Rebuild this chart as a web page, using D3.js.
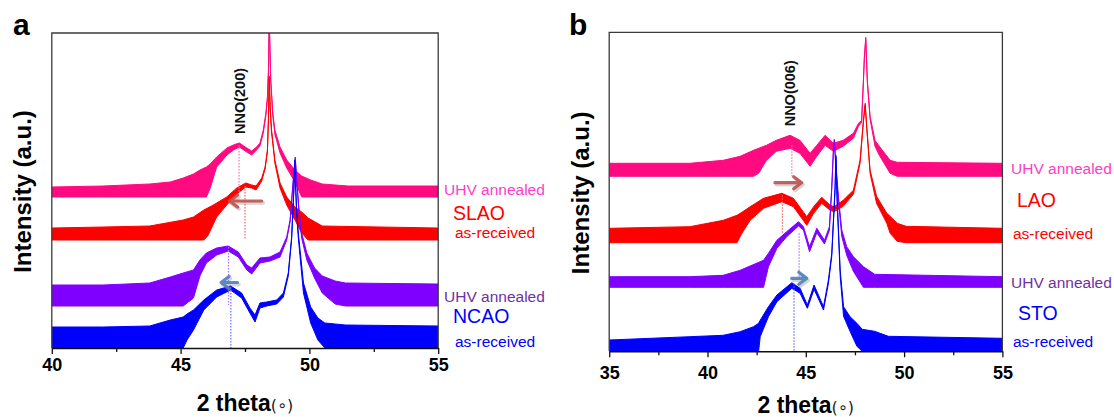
<!DOCTYPE html>
<html><head><meta charset="utf-8">
<script src="https://cdn.jsdelivr.net/npm/d3@7"></script>
<style>body{margin:0;background:#fff}svg{display:block}</style>
</head><body>
<svg id="c" width="1114" height="417"></svg>
<script>
// ---------- DATA (2θ in degrees, intensity in a.u.: [theta, upper envelope, lower envelope]) ----------
const thetaTicksA = [40, 45, 50, 55];
const thetaMinorA = [42.5, 47.5, 52.5];
const thetaTicksB = [35, 40, 45, 50, 55];
const thetaMinorB = [37.5, 42.5, 47.5, 52.5];

// Panel a : SLAO / NCAO substrates
const aSLAO_UHV = [[40,161,151],[42,162,151],[43.8,164,151],[44.6,166,151],[45.1,170,151],[45.5,174,151],[45.75,178,151],[46.0,181,151],[46.15,184,160],[46.4,191,181],[46.8,200,193],[47.05,203,198],[47.28,205,201],[47.57,200,196],[47.76,197,193],[47.95,201,198],[48.08,205,202],[48.21,218,215],[48.31,235,232],[48.37,251,249],[48.41,278,276],[48.44,330,328],[48.5,268,266],[48.58,235,232],[48.66,218,214],[48.86,201,195],[49.12,188,180],[49.44,178,166],[49.7,172,151],[50.05,168,151],[50.5,164,151],[51.5,162,151],[55,162,151]];
const aSLAO_AR  = [[40,120,108],[42,121,108],[43.8,122,108],[45.1,128,108],[45.5,131,108],[45.9,138,108],[46.05,140,112],[46.2,142,120],[46.4,145,131],[46.79,151,143],[47.18,160,154],[47.53,165,161],[47.76,163,160],[47.93,162,158],[48.15,170,167],[48.28,181,179],[48.37,198,196],[48.41,230,228],[48.44,272,270],[48.48,240,238],[48.53,218,216],[48.66,188,185],[48.86,165,160],[49.12,151,143],[49.44,141,128],[49.7,136,115],[49.95,130,108],[50.5,122,108],[55,120,108]];
const aNCAO_UHV = [[40,63,42],[42,63,42],[43.8,65,42],[44.6,71,42],[45.1,75,42],[45.5,78,50],[45.75,88,72],[46.0,95,85],[46.4,100,93],[46.85,102,97],[47.24,96,91],[47.57,83,78],[47.76,80,74],[48.08,90,85],[48.47,91,87],[48.86,96,91],[49.12,111,108],[49.25,128,126],[49.35,161,159],[49.45,191,189],[49.52,165,162],[49.6,138,134],[49.7,115,110],[49.9,95,88],[50.2,80,70],[50.5,72,55],[51,67,44],[51.4,65,42],[55,64,42]];
const aNCAO_AR  = [[40,21,0],[42,21,0],[43.8,22,0],[44.6,28,0],[45.1,31,0],[45.25,34,8],[45.5,38,18],[45.9,48,38],[46.4,58,51],[46.94,62,58],[47.37,55,50],[47.69,40,35],[47.89,33,26],[48.08,45,40],[48.34,46,42],[48.73,48,44],[48.99,55,51],[49.18,75,72],[49.31,111,109],[49.4,161,159],[49.43,188,186],[49.5,140,137],[49.57,115,110],[49.77,65,55],[50.05,41,25],[50.33,30,8],[50.6,25,0],[51.4,23,0],[55,22,0]];

// Panel b : LAO / STO substrates
const bLAO_UHV = [[35,188,175],[39.1,188,175],[40.8,191,175],[41.66,195,175],[42.34,201,175],[42.6,203,178],[43.0,206,191],[43.5,211,200],[44.2,216,203],[44.7,211,198],[45.22,198,185],[45.56,206,195],[45.98,216,206],[46.4,208,200],[46.9,211,205],[47.42,218,213],[47.68,228,225],[47.84,231,229],[47.93,271,269],[47.98,295,293],[48.05,314,312],[48.13,271,269],[48.27,235,232],[48.52,211,205],[48.74,205,196],[49.29,191,178],[49.65,189,175],[55,188,175]];
const bLAO_AR  = [[35,123,108.6],[39.1,124.6,108.6],[40.8,131,108.6],[41.5,136,108.6],[41.75,139,118],[42.17,144.6,131],[42.85,153,143],[43.78,158,149.6],[44.37,153,144.6],[45.05,134.6,126],[45.4,144.6,138],[45.81,154,148],[46.24,146,141],[46.44,144.6,139.6],[46.9,151,145],[47.42,161,157],[47.76,191,188],[47.93,231,229],[48.02,248,246],[48.1,225,223],[48.27,181,178],[48.6,155,148],[49.12,138,128],[49.29,135,118],[49.65,128,110],[50.1,125,108.6],[55,123,108.6]];
const bSTO_UHV = [[35,74.6,64],[39.1,74.6,64],[40.8,76,64],[41.66,81,64],[42.85,91,64],[43.1,98,84.6],[43.53,111,103],[44.03,119.6,114.6],[44.63,129.6,125.3],[44.88,124.6,121.3],[45.19,104.6,99.6],[45.56,123,118.6],[45.95,111,107.3],[46.2,124.6,121],[46.32,164.6,162],[46.41,204.6,202],[46.45,212,210],[46.52,190,187],[46.66,154.6,150],[46.83,121.3,115],[47.08,104.6,96],[47.42,94.6,80],[47.93,84.6,64],[48.5,77,64],[55,74.6,64]];
const bSTO_AR  = [[35,11.3,0],[39.1,14.6,0],[40.8,16,0],[41.66,19.6,0],[42.34,24.6,0],[42.6,28,0],[42.68,31,14.6],[43.1,44.6,34.6],[43.53,56.3,49.6],[44.29,68.6,63],[44.71,63,58],[45.08,46.3,43],[45.42,66.3,62],[45.9,44.6,41.3],[46.15,71.3,68],[46.32,98,95],[46.49,164.6,162],[46.53,196,194],[46.6,150,147],[46.75,81,75],[46.92,44.6,35],[47.25,34.6,20],[47.6,28,5],[47.87,22,0],[48.5,20,0],[49.2,15,0],[55,13,0]];

// peak-position guide lines: [theta, upper, lower]
const aGuides = [[47.27,203,155],[47.5,162,108],[46.86,101,43],[46.95,61,0]];
const bGuides = [[44.29,206,175],[43.81,156,118],[44.66,118,74],[44.4,68,0]];
// shift arrows: [from theta, to theta, level]
const aArrows = [[48.15,46.9,147],[47.21,46.57,65.5]];
const bArrows = [[43.43,44.79,168.6],[44.28,45.05,73]];
// peak labels: [text, theta, level]
const aPeakLabel = ["NNO(200)", 47.3, 247];
const bPeakLabel = ["NNO(006)", 44.2, 258];
// legend texts
const aLegend = ["UHV annealed", "SLAO", "as-received", "UHV annealed", "NCAO", "as-received"];
const bLegend = ["UHV annealed", "LAO", "as-received", "UHV annealed", "STO", "as-received"];

// ---------- STYLES ----------
const curveColors = ["#ff0a80", "#ff0000", "#8000ff", "#0000ff"];
const guideColors = ["#ff70b0", "#ff6060", "#b070ff", "#6a6aff"];
const arrowColors = ["#c0504d", "#4f81bd"];
const legendColors = ["#ff3cc8", "#ff0000", "#ff0000", "#7030a0", "#0000ff", "#0000ff"];
const legendSizes = [15.5, 19.5, 15.5, 15.5, 19.5, 15.5];
const FONT = "'Liberation Sans', Arial, sans-serif";

const svg = d3.select("#c");
const defs = svg.append("defs");

function drawPanel(cfg) {
  const x = d3.scaleLinear().domain(cfg.xDomain).range(cfg.xRange);
  const y = d3.scaleLinear().domain(cfg.yDomain).range(cfg.yRange);
  const [L, R] = cfg.xRange, [B, T] = cfg.yRange;
  const g = svg.append("g");

  defs.append("clipPath").attr("id", "clip" + cfg.id).append("rect")
    .attr("x", L).attr("y", T).attr("width", R - L).attr("height", B - T);
  const plot = g.append("g").attr("clip-path", `url(#clip${cfg.id})`);

  const area = d3.area().x(d => x(d[0])).y0(d => y(d[2])).y1(d => y(d[1]));
  cfg.series.forEach((s, i) => {
    plot.append("path").datum(s).attr("d", area)
      .attr("fill", curveColors[i]).attr("stroke", curveColors[i])
      .attr("stroke-width", 1).attr("stroke-linejoin", "round");
  });
  cfg.guides.forEach((d, i) => {
    plot.append("line").attr("x1", x(d[0])).attr("x2", x(d[0]))
      .attr("y1", y(d[1])).attr("y2", y(d[2]))
      .attr("stroke", guideColors[i]).attr("stroke-width", 1.2)
      .attr("stroke-dasharray", "1.5,1.5");
  });

  // arrows
  cfg.arrows.forEach((d, i) => {
    const x1 = x(d[0]), x2 = x(d[1]), yy = y(d[2]);
    const dir = Math.sign(x2 - x1);
    const p = `M${x1},${yy}L${x2},${yy}M${x2 - dir * 8},${yy - 6}L${x2},${yy}L${x2 - dir * 8},${yy + 6}`;
    g.append("path").attr("d", p).attr("transform", "translate(1.5,2)")
      .attr("fill", "none").attr("stroke", "#888").attr("stroke-opacity", 0.35)
      .attr("stroke-width", 3.5).attr("stroke-linecap", "round").attr("stroke-linejoin", "round");
    g.append("path").attr("d", p)
      .attr("fill", "none").attr("stroke", arrowColors[i]).attr("stroke-opacity", 0.9)
      .attr("stroke-width", 3.2).attr("stroke-linecap", "round").attr("stroke-linejoin", "round");
  });

  // frame
  g.append("path").attr("d", `M${L},${B}L${L},${T}L${R},${T}L${R},${B}`)
    .attr("fill", "none").attr("stroke", "#3a3a3a").attr("stroke-width", 1.3);

  // x axis
  const axMajor = d3.axisBottom(x).tickValues(cfg.ticks).tickSize(6)
    .tickPadding(cfg.tickPad).tickFormat(d3.format("d")).tickSizeOuter(0);
  const ax = g.append("g").attr("transform", `translate(0,${B})`).call(axMajor);
  ax.select(".domain").attr("stroke", "#111").attr("stroke-width", 1.5);
  ax.selectAll(".tick line").attr("stroke", "#111").attr("stroke-width", 1.3);
  ax.selectAll("text").attr("font-family", FONT).attr("font-weight", "bold")
    .attr("font-size", 18).attr("fill", "#000");
  const axMinor = d3.axisBottom(x).tickValues(cfg.minor).tickSize(4).tickFormat("").tickSizeOuter(0);
  const axm = g.append("g").attr("transform", `translate(0,${B})`).call(axMinor);
  axm.select(".domain").remove();
  axm.selectAll(".tick line").attr("stroke", "#111").attr("stroke-width", 1.3);

  // axis titles
  const xt = g.append("text").attr("x", (L + R) / 2).attr("y", cfg.xTitleY)
    .attr("text-anchor", "middle").attr("font-family", FONT).attr("fill", "#000");
  xt.append("tspan").attr("font-weight", "bold").attr("font-size", 23).text("2 theta");
  xt.append("tspan").attr("font-size", 16).attr("fill", "#222").attr("font-family", "'DejaVu Sans', sans-serif").text("(\u2218)");

  g.append("text").attr("transform", `translate(${cfg.yTitleX},${(T + B) / 2 + 1}) rotate(-90)`)
    .attr("text-anchor", "middle").attr("dominant-baseline", "central")
    .attr("font-family", FONT).attr("font-weight", "bold").attr("font-size", 24)
    .attr("fill", "#000").text("Intensity (a.u.)");

  // panel letter
  g.append("text").attr("x", cfg.letterX).attr("y", 35).attr("font-family", FONT)
    .attr("font-weight", "bold").attr("font-size", 30).attr("fill", "#000").text(cfg.letter);

  // peak label
  g.append("text").attr("transform", `translate(${x(cfg.peakLabel[1])},${y(cfg.peakLabel[2])}) rotate(-90)`)
    .attr("text-anchor", "middle").attr("dominant-baseline", "central")
    .attr("font-family", FONT).attr("font-weight", "bold").attr("font-size", 14.5)
    .attr("fill", "#111").text(cfg.peakLabel[0]);

  // legend texts
  cfg.legend.forEach((t, i) => {
    g.append("text").attr("x", cfg.legendX[i]).attr("y", cfg.legendY[i])
      .attr("font-family", FONT).attr("font-size", legendSizes[i])
      .attr("fill", legendColors[i]).text(t);
  });
}

drawPanel({
  id: "a", letter: "a", letterX: 13,
  xDomain: [40, 55], xRange: [51.8, 438.2],
  yDomain: [0, 315], yRange: [348, 33],
  series: [aSLAO_UHV, aSLAO_AR, aNCAO_UHV, aNCAO_AR],
  guides: aGuides, arrows: aArrows, peakLabel: aPeakLabel,
  ticks: thetaTicksA, minor: thetaMinorA, tickPad: 4,
  xTitleY: 411, yTitleX: 22,
  legend: aLegend,
  legendX: [444, 453, 455, 444, 453, 455],
  legendY: [195, 219.5, 238, 301.5, 323, 347]
});

drawPanel({
  id: "b", letter: "b", letterX: 569,
  xDomain: [35, 55], xRange: [609.2, 1002.4],
  yDomain: [0, 319], yRange: [351.3, 32.3],
  series: [bLAO_UHV, bLAO_AR, bSTO_UHV, bSTO_AR],
  guides: bGuides, arrows: bArrows, peakLabel: bPeakLabel,
  ticks: thetaTicksB, minor: thetaMinorB, tickPad: 9,
  xTitleY: 413, yTitleX: 580,
  legend: bLegend,
  legendX: [1011, 1017, 1013, 1011, 1018, 1013],
  legendY: [174, 207, 239, 288, 320, 347]
});
</script>
</body></html>
